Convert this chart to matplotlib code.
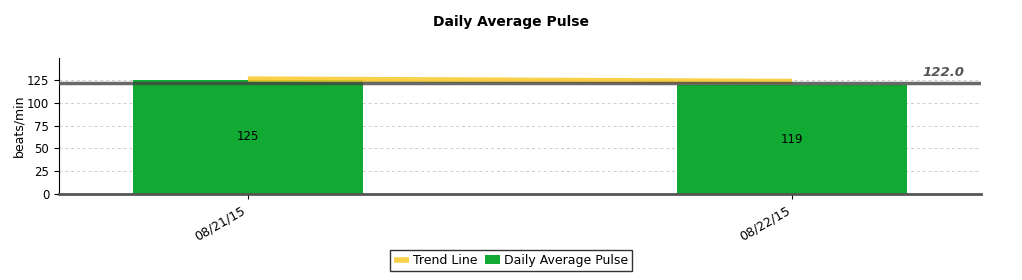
import matplotlib
matplotlib.use("Agg")
import matplotlib.pyplot as plt
import numpy as np

dates = ["08/21/15", "08/22/15"]
pulse = [125, 119]
trend = [125.8, 123.2]
mean_value = 122.0
yticks = [0, 25, 50, 75, 100, 125]

fig = plt.figure(figsize=(10.22, 2.8), dpi=100)
ax = fig.add_axes([0.0577, 0.307, 0.9023, 0.486])

x = np.arange(len(dates))
bars = ax.bar(x, pulse, width=0.423, color="#11aa33", label="Daily Average Pulse", zorder=2)
for xi, v in zip(x, pulse):
    ax.text(xi, v / 2, f"{v}", ha="center", va="center", fontsize=8.5, color="black", zorder=5)

ax.plot(x, trend, color="#f7c928", lw=4, alpha=0.85, label="Trend Line", zorder=3,
        solid_capstyle="butt")
ax.axhline(mean_value, color="#444444", lw=2.5, alpha=0.8, zorder=4)
ax.text(1.317, mean_value + 4, f"{mean_value:.1f}", ha="right", va="bottom", fontsize=9.5,
        fontweight="bold", fontstyle="italic", color="#555555")

ax.set_xlim(-0.347, 1.347)
ax.set_ylim(0, 149)
ax.set_yticks(yticks)
ax.set_xticks(x)
ax.set_xticklabels(dates, rotation=30, ha="right", fontsize=9)
ax.tick_params(axis="y", labelsize=8.5)
ax.set_ylabel("beats/min", fontsize=9, labelpad=1)
ax.yaxis.grid(True, linestyle=(0, (3, 3)), color="#cccccc", lw=0.7, zorder=0)
ax.set_axisbelow(True)
for s in ["top", "right"]:
    ax.spines[s].set_visible(False)
ax.spines["bottom"].set_color("#555555")
ax.spines["bottom"].set_linewidth(2)

fig.text(0.5, 0.921, "Daily Average Pulse", ha="center", va="center",
         fontsize=10, fontweight="bold")

handles, labels = ax.get_legend_handles_labels()
order = [labels.index("Trend Line"), labels.index("Daily Average Pulse")]
leg = fig.legend([handles[i] for i in order], [labels[i] for i in order],
                 loc="center", bbox_to_anchor=(0.5, 0.07), ncol=2, fontsize=9,
                 fancybox=False, edgecolor="black", handlelength=1.2,
                 handletextpad=0.3, columnspacing=0.6, borderpad=0.3)
leg.get_frame().set_linewidth(1)
fig.savefig("out.png", dpi=100)
